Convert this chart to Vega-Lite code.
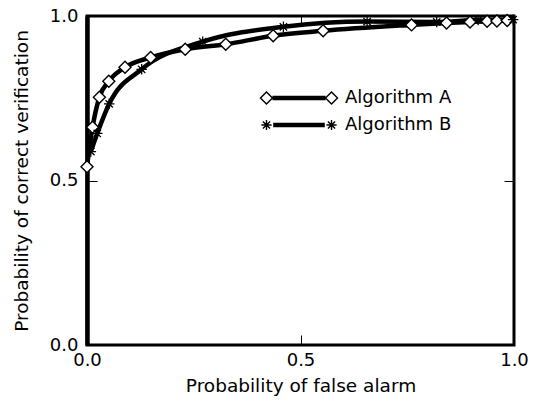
{
  "$schema": "https://vega.github.io/schema/vega-lite/v6.json",
  "width": 427,
  "height": 329,
  "autosize": "none",
  "padding": {"left": 87, "top": 16, "right": 20, "bottom": 56},
  "background": "white",
  "config": {
    "font": "DejaVu Sans",
    "view": {"stroke": "black", "strokeWidth": 3},
    "axis": {
      "labelFont": "DejaVu Sans",
      "labelFontSize": 18,
      "labelColor": "black",
      "labelFlush": false,
      "labelOverlap": false,
      "titleFont": "DejaVu Sans",
      "titleFontSize": 18.5,
      "titleFontWeight": "normal",
      "titleColor": "black",
      "tickColor": "black",
      "tickWidth": 1,
      "grid": false
    }
  },
  "data": {
    "values": [
      {"algorithm": "Algorithm A", "pfa": 0.0, "pcv": 0.542},
      {"algorithm": "Algorithm A", "pfa": 0.013, "pcv": 0.662},
      {"algorithm": "Algorithm A", "pfa": 0.029, "pcv": 0.753},
      {"algorithm": "Algorithm A", "pfa": 0.051, "pcv": 0.802},
      {"algorithm": "Algorithm A", "pfa": 0.089, "pcv": 0.844},
      {"algorithm": "Algorithm A", "pfa": 0.149, "pcv": 0.874},
      {"algorithm": "Algorithm A", "pfa": 0.23, "pcv": 0.899},
      {"algorithm": "Algorithm A", "pfa": 0.325, "pcv": 0.914},
      {"algorithm": "Algorithm A", "pfa": 0.436, "pcv": 0.94},
      {"algorithm": "Algorithm A", "pfa": 0.553, "pcv": 0.955},
      {"algorithm": "Algorithm A", "pfa": 0.76, "pcv": 0.973},
      {"algorithm": "Algorithm A", "pfa": 0.842, "pcv": 0.979},
      {"algorithm": "Algorithm A", "pfa": 0.897, "pcv": 0.982},
      {"algorithm": "Algorithm A", "pfa": 0.937, "pcv": 0.984},
      {"algorithm": "Algorithm A", "pfa": 0.96, "pcv": 0.985},
      {"algorithm": "Algorithm A", "pfa": 0.984, "pcv": 0.986},
      {"algorithm": "Algorithm B", "pfa": 0.009, "pcv": 0.588},
      {"algorithm": "Algorithm B", "pfa": 0.024, "pcv": 0.643},
      {"algorithm": "Algorithm B", "pfa": 0.052, "pcv": 0.733},
      {"algorithm": "Algorithm B", "pfa": 0.128, "pcv": 0.838},
      {"algorithm": "Algorithm B", "pfa": 0.271, "pcv": 0.922},
      {"algorithm": "Algorithm B", "pfa": 0.46, "pcv": 0.967},
      {"algorithm": "Algorithm B", "pfa": 0.656, "pcv": 0.983},
      {"algorithm": "Algorithm B", "pfa": 0.819, "pcv": 0.982},
      {"algorithm": "Algorithm B", "pfa": 0.916, "pcv": 0.988},
      {"algorithm": "Algorithm B", "pfa": 0.998, "pcv": 0.989}
    ]
  },
  "layer": [
    {
      "mark": {"type": "line", "color": "black", "strokeWidth": 4.5, "interpolate": "monotone"},
      "encoding": {
        "x": {"field": "pfa", "type": "quantitative", "scale": {"domain": [0, 1], "nice": false},
          "axis": {"orient": "bottom", "title": "Probability of false alarm", "values": [0, 0.5, 1], "format": ".1f", "domain": false, "tickSize": -10, "labelPadding": 16, "titlePadding": 7}},
        "y": {"field": "pcv", "type": "quantitative", "scale": {"domain": [0, 1], "nice": false},
          "axis": {"orient": "left", "title": "Probability of correct verification", "values": [0, 0.5, 1], "format": ".1f", "domain": true, "domainColor": "black", "domainWidth": 4.5, "tickSize": -10, "labelPadding": 19, "titlePadding": 18}},
        "detail": {"field": "algorithm", "type": "nominal"}
      }
    },
    {
      "transform": [{"filter": "datum.algorithm == 'Algorithm A'"}],
      "mark": {"type": "point", "shape": "diamond", "filled": true, "fill": "white", "stroke": "black", "strokeWidth": 1.4, "size": 144, "opacity": 1},
      "encoding": {
        "x": {"field": "pfa", "type": "quantitative",
          "axis": {"orient": "top", "title": null, "labels": false, "values": [0.5], "domain": false, "tickSize": -10}},
        "y": {"field": "pcv", "type": "quantitative",
          "axis": {"orient": "right", "title": null, "labels": false, "values": [0.5], "domain": false, "tickSize": -10}}
      }
    },
    {
      "transform": [{"filter": "datum.algorithm == 'Algorithm B'"}],
      "mark": {"type": "point", "shape": "M0,-1L0,1M-1,0L1,0M-0.7,-0.7L0.7,0.7M-0.7,0.7L0.7,-0.7", "filled": false, "stroke": "black", "strokeWidth": 1.3, "size": 110, "opacity": 1},
      "encoding": {
        "x": {"field": "pfa", "type": "quantitative", "axis": null},
        "y": {"field": "pcv", "type": "quantitative", "axis": null}
      }
    },
    {
      "mark": {"type": "point", "opacity": 0, "size": 144},
      "encoding": {
        "x": {"field": "pfa", "type": "quantitative", "axis": null},
        "y": {"field": "pcv", "type": "quantitative", "axis": null},
        "shape": {"field": "algorithm", "type": "nominal",
          "scale": {"range": [
            "M-6.42,0L-5.42,-1L-4.42,0L-5.42,1Z M4.42,0L5.42,-1L6.42,0L5.42,1Z M-4.42,-0.25L4.42,-0.25 M-4.42,0L4.42,0 M-4.42,0.25L4.42,0.25",
            "M-5.42,-0.85L-5.42,0.85M-6.27,0L-4.57,0M-6.02,-0.6L-4.82,0.6M-6.02,0.6L-4.82,-0.6 M5.42,-0.85L5.42,0.85M4.57,0L6.27,0M4.82,-0.6L6.02,0.6M4.82,0.6L6.02,-0.6 M-4.3,-0.25L4.3,-0.25 M-4.3,0L4.3,0 M-4.3,0.25L4.3,0.25"
          ]},
          "legend": {"orient": "none", "legendX": 203, "legendY": 73, "title": null, "direction": "vertical",
            "symbolSize": 144, "symbolFillColor": "white", "symbolStrokeColor": "black", "symbolStrokeWidth": 1.4, "symbolOpacity": 1,
            "labelFont": "DejaVu Sans", "labelFontSize": 18, "labelColor": "black", "labelOffset": 37, "rowPadding": 9, "padding": 0}
        }
      }
    }
  ],
  "resolve": {"axis": {"x": "independent", "y": "independent"}}
}
